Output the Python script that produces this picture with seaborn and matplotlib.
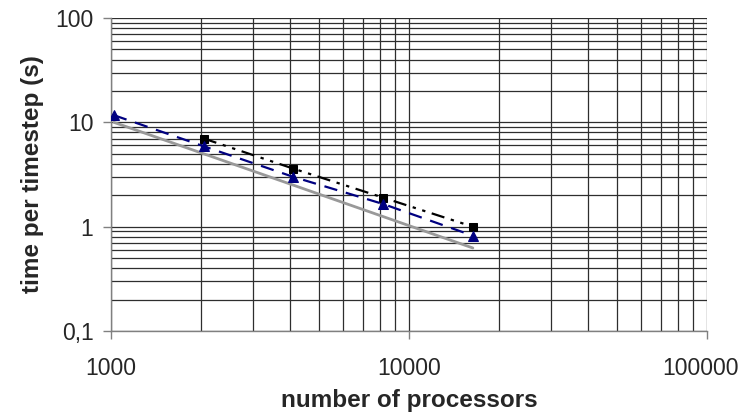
import matplotlib
matplotlib.use("Agg")
import matplotlib.pyplot as plt
import matplotlib.ticker as mticker
import matplotlib.transforms as mtransforms
import numpy as np
import seaborn as sns

# values
procs = [1024, 2048, 4096, 8192, 16384]
time_measured_a = [11.7, 5.9, 3.0, 1.65, 0.82]   # navy triangles
procs_b = [2048, 4096, 8192, 16384]
time_measured_b = [7.0, 3.6, 1.9, 1.0]           # black squares
time_ideal = [10.0, 5.0, 2.5, 1.25, 0.625]        # gray solid line

x_ticks = [1000, 10000, 100000]
x_tick_labels = ["1000", "10000", "100000"]
y_ticks = [0.1, 1, 10, 100]
y_tick_labels = ["0,1", "1", "10", "100"]

sns.set_style("white")
plt.rcParams["font.family"] = ["Liberation Sans", "DejaVu Sans"]

fig = plt.figure(figsize=(7.49, 4.18), dpi=100)
ax = fig.add_axes([0.148, 0.208, 0.796, 0.749])

ax.set_xscale("log")
ax.set_yscale("log")
ax.set_xlim(1000, 100000)
ax.set_ylim(0.1, 100)

# grid: majors and minors, dark lines
ax.xaxis.set_minor_locator(mticker.LogLocator(base=10, subs=np.arange(2, 10)))
ax.yaxis.set_minor_locator(mticker.LogLocator(base=10, subs=np.arange(2, 10)))
ax.grid(True, which="both", color="#2e2e2e", lw=0.9)
ax.set_axisbelow(True)

sns.lineplot(x=procs, y=time_ideal, ax=ax, color="#999999", lw=2.0,
             zorder=3)
sns.lineplot(x=procs_b, y=time_measured_b, ax=ax, color="black", lw=1.6,
             linestyle=(0, (6, 3, 1.5, 3, 1.5, 3)), marker="s", ms=5.5,
             mec="black", mfc="black", zorder=4)
sns.lineplot(x=procs, y=time_measured_a, ax=ax, color="#000080", lw=1.6,
             linestyle=(0, (6, 4)), marker="^", ms=7.5,
             mec="#000080", mfc="#000080", zorder=5)

ax.set_xticks(x_ticks)
ax.set_xticklabels(x_tick_labels)
ax.set_yticks(y_ticks)
ax.set_yticklabels(y_tick_labels)
ax.tick_params(axis="both", which="major", length=5.5, width=1, color="#808080",
               labelsize=16.5, direction="out", bottom=True, left=True)
ax.tick_params(axis="both", which="minor", length=0)
ax.tick_params(axis="x", pad=13)
ax.tick_params(axis="y", pad=7)

# the last x label sits a little to the left, inside the figure
last = ax.get_xticklabels()[-1]
last.set_transform(last.get_transform()
                   + mtransforms.ScaledTranslation(-7 / 100, 0, fig.dpi_scale_trans))

for side in ["top", "right"]:
    ax.spines[side].set_visible(False)
for side in ["left", "bottom"]:
    ax.spines[side].set_color("#808080")
    ax.spines[side].set_linewidth(1.0)

ax.set_xlabel("number of processors", fontsize=17.5, fontweight="bold", labelpad=7)
ax.set_ylabel("time per timestep (s)", fontsize=17.5, fontweight="bold", labelpad=8)

fig.savefig("out.png", dpi=100)
plt.close(fig)
